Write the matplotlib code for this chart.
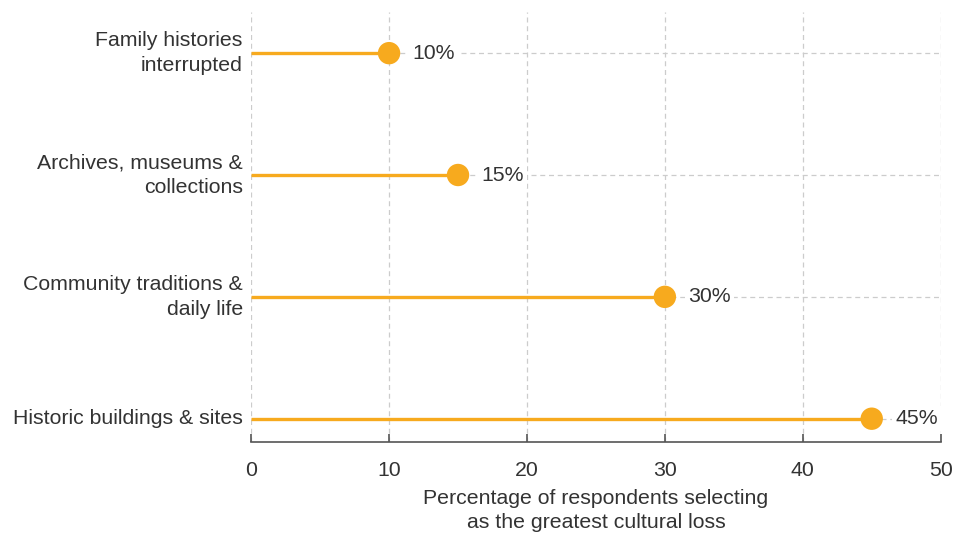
import matplotlib.pyplot as plt

plt.rcParams['font.family'] = ['Liberation Sans', 'DejaVu Sans']

# data
categories = ["Historic buildings & sites",
              "Community traditions &\ndaily life",
              "Archives, museums &\ncollections",
              "Family histories\ninterrupted"]
values = [45, 30, 15, 10]
xticks = [0, 10, 20, 30, 40, 50]

orange = "#F7AA1E"
txt = "#333333"
fs = 15.3

fig = plt.figure(figsize=(9.55, 5.33), dpi=100)
ax = fig.add_axes([0.263, 0.171, 0.722, 0.807])

ypos = list(range(len(categories)))
ax.hlines(ypos, 0, values, color=orange, linewidth=2.4, zorder=3)
ax.scatter(values, ypos, s=260, color=orange, zorder=4, edgecolors="none")

for y, v in zip(ypos, values):
    ax.annotate(f"{v}%", (v, y), xytext=(17, 0), textcoords="offset points",
                va="center", ha="left", fontsize=fs, color=txt, zorder=5,
                bbox=dict(boxstyle="square,pad=0.15", fc="white", ec="none"))

ax.set_xlim(0, 50)
ax.set_ylim(-0.19, 3.34)
ax.set_xticks(xticks)
ax.set_yticks(ypos)
ax.set_yticklabels(categories, linespacing=1.38, va="center")

ax.grid(True, color="#cccccc", linestyle=(0, (4, 3)), linewidth=0.9, zorder=0)
ax.set_axisbelow(True)

for s in ["left", "top", "right"]:
    ax.spines[s].set_visible(False)
ax.spines["bottom"].set_color("#555555")
ax.spines["bottom"].set_linewidth(1.2)

ax.tick_params(axis="x", direction="in", length=6, width=1.2, color="#555555",
               pad=14, labelsize=fs, labelcolor=txt)
ax.tick_params(axis="y", length=0, pad=6, labelsize=fs, labelcolor=txt)

ax.set_xlabel("Percentage of respondents selecting\nas the greatest cultural loss",
              fontsize=fs, color=txt, labelpad=6, linespacing=1.38)

fig.savefig("out.png", dpi=100)
